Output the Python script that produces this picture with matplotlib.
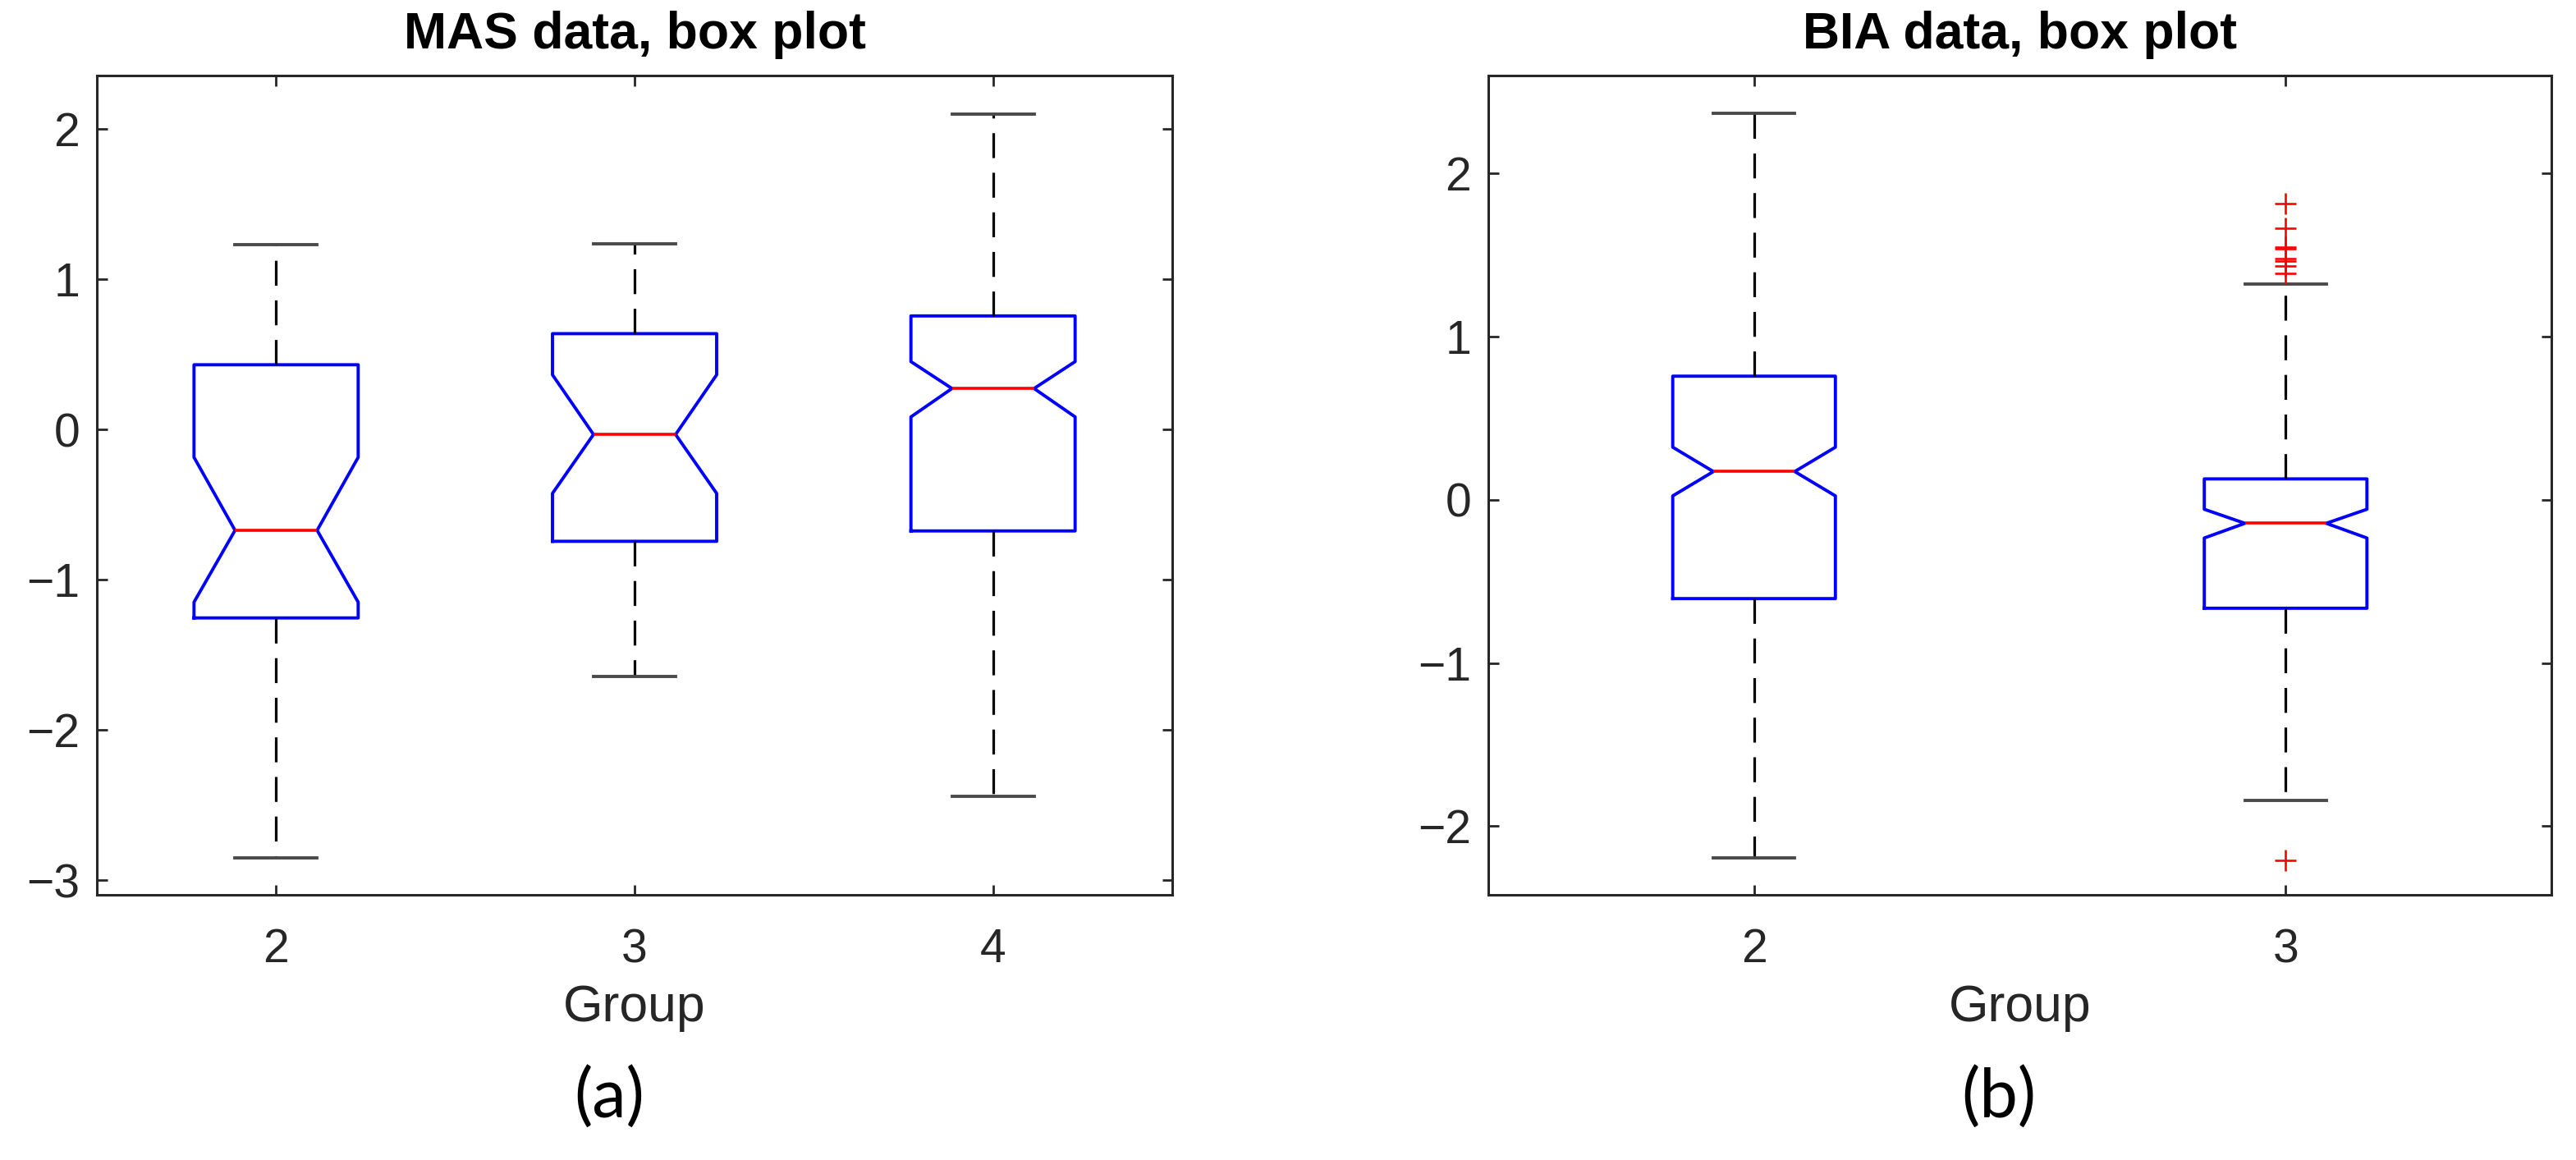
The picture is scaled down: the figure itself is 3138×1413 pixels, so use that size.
import matplotlib
matplotlib.use("Agg")
import matplotlib.pyplot as plt

# ---- data ----
mas_groups = ["2", "3", "4"]
mas_positions = [2, 3, 4]
mas_whislo = [-2.85, -1.647, -2.441]
mas_q1 = [-1.255, -0.745, -0.676]
mas_cilo = [-1.15, -0.426, 0.083]
mas_med = [-0.672, -0.034, 0.272]
mas_cihi = [-0.186, 0.363, 0.451]
mas_q3 = [0.43, 0.637, 0.755]
mas_whishi = [1.23, 1.235, 2.098]
mas_fliers = [[], [], []]

bia_groups = ["2", "3"]
bia_positions = [2, 3]
bia_whislo = [-2.195, -1.842]
bia_q1 = [-0.606, -0.665]
bia_cilo = [0.023, -0.235]
bia_med = [0.172, -0.145]
bia_cihi = [0.321, -0.059]
bia_q3 = [0.756, 0.127]
bia_whishi = [2.367, 1.321]
bia_fliers = [[], [1.814, 1.663, 1.548, 1.538, 1.477, 1.462, 1.432, 1.387, -2.208]]

mas_yticks = [-3, -2, -1, 0, 1, 2]
bia_yticks = [-2, -1, 0, 1, 2]

W, H = 3138, 1413
fig = plt.figure(figsize=(W / 100, H / 100), dpi=100)
fig.patch.set_facecolor("white")

AXC = "#262626"
plt.rcParams["font.family"] = ["Liberation Sans", "DejaVu Sans"]


def stats(whislo, q1, cilo, med, cihi, q3, whishi, fliers, labels):
    out = []
    for i in range(len(med)):
        out.append(dict(whislo=whislo[i], q1=q1[i], cilo=cilo[i], med=med[i],
                        cihi=cihi[i], q3=q3[i], whishi=whishi[i],
                        fliers=fliers[i], label=labels[i]))
    return out


def draw(ax, st, positions, width, yticks, ylim, title):
    ax.bxp(st, positions=positions, widths=width, shownotches=True,
           boxprops=dict(color="blue", linewidth=2.8),
           medianprops=dict(color="red", linewidth=2.6),
           whiskerprops=dict(color="black", linewidth=2.3, linestyle=(0, (9.5, 5.6))),
           capprops=dict(color="#4a4a4a", linewidth=2.8),
           flierprops=dict(marker="+", markeredgecolor="red", markersize=19,
                           markeredgewidth=1.9, linestyle="none"))
    ax.set_xlim(positions[0] - 0.5, positions[-1] + 0.5)
    ax.set_ylim(*ylim)
    ax.set_yticks(yticks)
    ax.set_yticklabels([str(v).replace("-", "\u2212") for v in yticks])
    ax.tick_params(axis="both", direction="in", length=9, width=2.0, color=AXC,
                   labelcolor=AXC, labelsize=41, top=True, right=True)
    ax.tick_params(axis="x", pad=29)
    ax.tick_params(axis="y", pad=15)
    for s in ax.spines.values():
        s.set_color(AXC)
        s.set_linewidth(2.2)
    ax.set_xlabel("Group", fontsize=45, color=AXC, labelpad=10)
    ax.set_title(title, fontsize=45, fontweight="bold", color="black", pad=24)


ax1 = fig.add_axes([118 / W, 1 - 1090 / H, (1428 - 118) / W, (1090 - 92) / H])
ax2 = fig.add_axes([1813 / W, 1 - 1090 / H, (3108 - 1813) / W, (1090 - 92) / H])

draw(ax1, stats(mas_whislo, mas_q1, mas_cilo, mas_med, mas_cihi, mas_q3, mas_whishi,
                mas_fliers, mas_groups),
     mas_positions, 0.458, mas_yticks, (-3.098, 2.355), "MAS data, box plot")
draw(ax2, stats(bia_whislo, bia_q1, bia_cilo, bia_med, bia_cihi, bia_q3, bia_whishi,
                bia_fliers, bia_groups),
     bia_positions, 0.306, bia_yticks, (-2.42, 2.597), "BIA data, box plot")

fig.text(742 / W, 1 - 1338 / H, "(a)", fontsize=60, family=["Lato", "DejaVu Sans"],
         ha="center", va="center", color="black")
fig.text(2435 / W, 1 - 1338 / H, "(b)", fontsize=60, family=["Lato", "DejaVu Sans"],
         ha="center", va="center", color="black")

fig.savefig("out.png", dpi=100, facecolor="white")
